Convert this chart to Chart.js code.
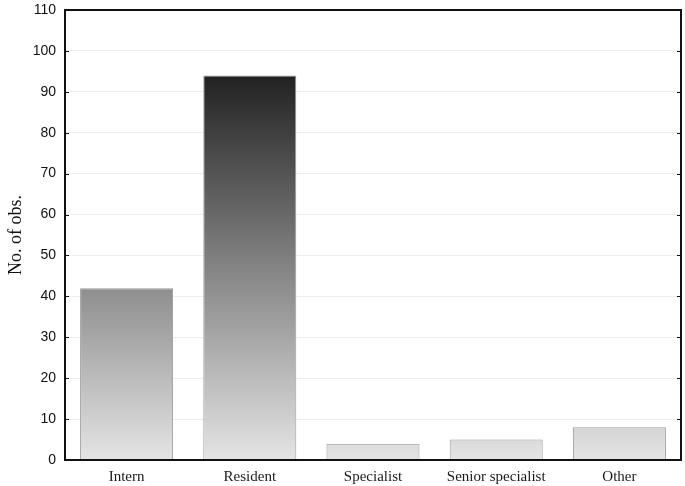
<!DOCTYPE html>
<html>
<head>
<meta charset="utf-8">
<script src="https://cdn.jsdelivr.net/npm/chart.js@4/dist/chart.umd.min.js"></script>
<style>
    html, body { margin: 0; padding: 0; background: #fff; }
    #wrap { width: 685px; height: 486px; }
</style>
</head>
<body>
<div id="wrap"><canvas id="obsChart" width="685" height="486"></canvas></div>
<script>
const categories = ['Intern', 'Resident', 'Specialist', 'Senior specialist', 'Other'];
const counts = [42, 94, 4, 5, 8];
const yMin = 0;
const yMax = 110;
const yStep = 10;

// frame + small inward tick marks on both sides
const framePlugin = {
    id: 'frame',
    afterDraw(chart) {
        const c = chart.ctx;
        const a = chart.chartArea;
        const y = chart.scales.y;
        c.save();
        c.strokeStyle = '#111';
        c.lineWidth = 1;
        y.ticks.forEach(function (t) {
            const py = Math.round(y.getPixelForValue(t.value)) + 0.5;
            c.beginPath();
            c.moveTo(a.left, py);
            c.lineTo(a.left + 4, py);
            c.moveTo(a.right - 4, py);
            c.lineTo(a.right, py);
            c.stroke();
        });
        c.lineWidth = 2;
        c.strokeRect(a.left, a.top, a.right - a.left, a.bottom - a.top);
        c.restore();
    }
};

function barFill(context) {
    const chart = context.chart;
    if (!chart.chartArea) return '#bbb';
    const y = chart.scales.y;
    const g = chart.ctx.createLinearGradient(0, y.getPixelForValue(0), 0, y.getPixelForValue(Math.max(...counts)));
    g.addColorStop(0, '#e4e4e4');
    g.addColorStop(0.55, '#7a7a7a');
    g.addColorStop(1, '#222222');
    return g;
}

new Chart(document.getElementById('obsChart').getContext('2d'), {
    type: 'bar',
    data: {
        labels: categories,
        datasets: [{
            data: counts,
            backgroundColor: barFill,
            borderColor: '#9a9a9a',
            borderWidth: 1,
            borderSkipped: 'bottom',
            categoryPercentage: 1,
            barPercentage: 0.755
        }]
    },
    options: {
        responsive: false,
        animation: false,
        layout: { padding: { top: 10, right: 4, left: 0, bottom: 0 } },
        plugins: {
            legend: { display: false },
            tooltip: { enabled: false }
        },
        scales: {
            x: {
                grid: { display: false, drawTicks: false },
                border: { display: false },
                ticks: {
                    color: '#1a1a1a',
                    padding: 8,
                    font: { family: '"Liberation Serif", "DejaVu Serif", serif', size: 15 }
                },
                afterFit: function (scale) {
                    scale.height = 26;
                    scale.paddingLeft = 0;
                    scale.paddingRight = 0;
                }
            },
            y: {
                min: yMin,
                max: yMax,
                grid: { color: '#eeeeee', lineWidth: 1, drawTicks: false },
                border: { display: false },
                ticks: {
                    stepSize: yStep,
                    color: '#111',
                    padding: 9,
                    font: { family: '"Liberation Sans", Arial, sans-serif', size: 14 }
                },
                title: {
                    display: true,
                    text: 'No. of obs.',
                    color: '#111',
                    padding: { top: 5, bottom: 0 },
                    font: { family: '"Liberation Serif", "DejaVu Serif", serif', size: 18 }
                },
                afterFit: function (scale) {
                    scale.width = 65;
                    scale.paddingTop = 0;
                    scale.paddingBottom = 0;
                }
            }
        }
    },
    plugins: [framePlugin]
});
</script>
</body>
</html>
